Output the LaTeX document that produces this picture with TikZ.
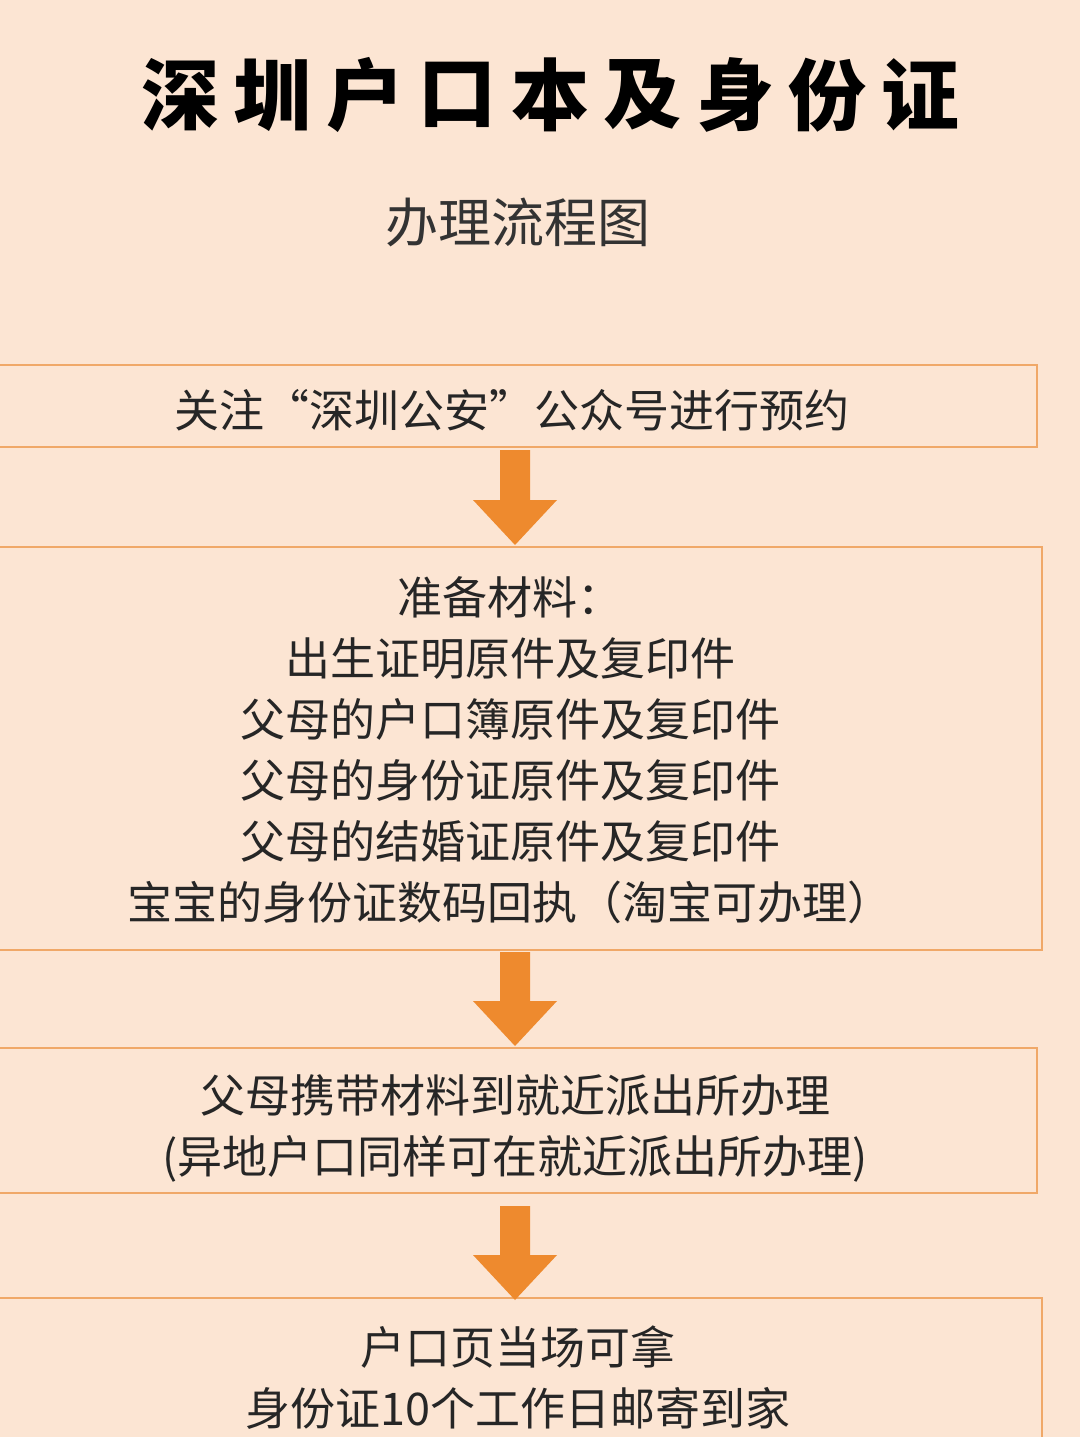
\documentclass[tikz,border=0pt]{standalone}
\usepackage{fontspec}
\newfontfamily\cjk{Noto Sans CJK SC}
\newfontfamily\cjkb{Noto Sans CJK SC Black}
\usetikzlibrary{shapes.arrows}
\definecolor{bg}{HTML}{FCE5D3}
\definecolor{bd}{HTML}{F0A868}
\definecolor{ar}{HTML}{EE8A2E}
\begin{document}
\begin{tikzpicture}[x=1pt,y=-1pt,
  boxst/.style={draw=bd,line width=2.5pt},
  txt/.style={font=\cjk\fontsize{45}{61}\selectfont,text=black!85,align=center},
  arr/.style={fill=ar,draw=none}]
\fill[bg] (0,0) rectangle (1080,1437);
\useasboundingbox (0,0) rectangle (1080,1437);
\foreach \c [count=\i] in {深,圳,户,口,本,及,身,份,证}{
  \node[font=\cjkb\fontsize{78}{80}\selectfont] (title\i) at ({180+92.5*(\i-1)},95) {\c};
}
\node[font=\cjk\fontsize{53}{56}\selectfont,text=black!80] (sub) at (518,222) {办理流程图};
\draw[boxst] (-5,365) rectangle (1037,447);
\node[txt] (t1) at (512,410) {关注“深圳公安”公众号进行预约};
\draw[boxst] (-5,547) rectangle (1042,950);
\node[txt] (t2) at (510,750) {准备材料：\\出生证明原件及复印件\\父母的户口簿原件及复印件\\父母的身份证原件及复印件\\父母的结婚证原件及复印件\\宝宝的身份证数码回执（淘宝可办理）};
\draw[boxst] (-5,1048) rectangle (1037,1193);
\node[txt] (t3) at (515,1128) {父母携带材料到就近派出所办理\\(异地户口同样可在就近派出所办理)};
\draw[boxst] (-5,1298) rectangle (1042,1450);
\node[txt] (t4) at (518,1378) {户口页当场可拿\\身份证10个工作日邮寄到家};
\foreach \a/\b in {450/545,952/1046,1206/1300}{
  \fill[arr] (500,\a) -- (530,\a) -- (530,\b-45) -- (557,\b-45) -- (515,\b) -- (473,\b-45) -- (500,\b-45) -- cycle;
}
\end{tikzpicture}
\end{document}
